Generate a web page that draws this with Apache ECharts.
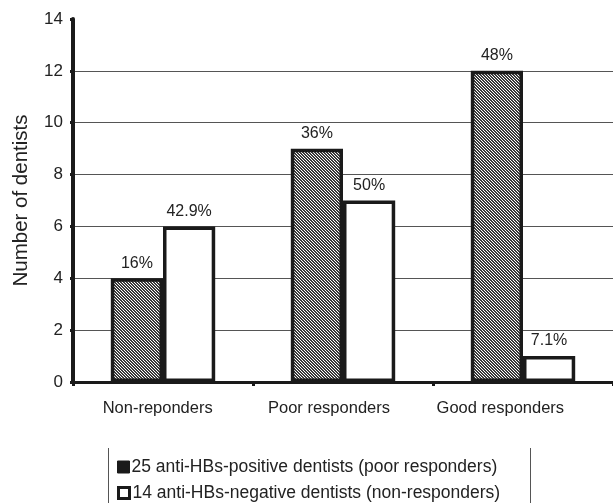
<!DOCTYPE html>
<html>
<head>
<meta charset="utf-8">
<script src="https://cdn.jsdelivr.net/npm/echarts@6/dist/echarts.min.js"></script>
<style>
  html, body { margin: 0; padding: 0; background: #fff; }
  #chart { width: 613px; height: 503px; }
</style>
</head>
<body>
<div id="chart"></div>
<script>
// Response categories and counts of dentists per group
const categories = ['Non-reponders', 'Poor responders', 'Good responders'];
const positiveCounts = [4, 9, 12];
const negativeCounts = [6, 7, 1];
const positiveLabels = ['16%', '36%', '48%'];
const negativeLabels = ['42.9%', '50%', '7.1%'];
const seriesNames = [
  '25 anti-HBs-positive dentists (poor responders)',
  '14 anti-HBs-negative dentists (non-responders)'
];

// Fine diagonal hatch used for the anti-HBs-positive bars
function makeHatch() {
  const c = document.createElement('canvas');
  c.width = 3; c.height = 3;
  const g = c.getContext('2d');
  g.fillStyle = '#ffffff';
  g.fillRect(0, 0, 3, 3);
  g.fillStyle = '#3a3a3a';
  for (let i = 0; i < 3; i++) {
    g.fillRect(i, i, 1, 1);
    g.fillRect((i + 1) % 3, i, 1, 1);
  }
  return c;
}
const hatch = { image: makeHatch(), repeat: 'repeat' };

const font = 'Liberation Sans, Arial, sans-serif';
const textColor = '#222';
const ink = '#1a1a1a';

const chart = echarts.init(document.getElementById('chart'), null, { renderer: 'canvas' });
chart.setOption({
  animation: false,
  backgroundColor: '#fff',
  grid: [
    // plotting area
    { left: 73, right: 0, top: 19, bottom: 121, containLabel: false },
    // narrower band that carries the category captions
    { left: 72, right: 27, top: 19, bottom: 121, containLabel: false }
  ],
  xAxis: [
    {
      type: 'category',
      gridIndex: 0,
      data: categories,
      axisLine: { lineStyle: { color: ink, width: 3 } },
      axisTick: { show: true, length: 4, lineStyle: { color: ink, width: 3 } },
      axisLabel: { show: false }
    },
    {
      type: 'category',
      gridIndex: 1,
      data: categories,
      axisLine: { show: false },
      axisTick: { show: false },
      axisLabel: { color: textColor, fontFamily: font, fontSize: 16.5, margin: 18 }
    }
  ],
  yAxis: [
    {
      type: 'value',
      gridIndex: 0,
      min: 0, max: 14, interval: 2,
      name: 'Number of dentists',
      nameLocation: 'middle',
      nameGap: 41,
      nameTextStyle: { color: textColor, fontFamily: font, fontSize: 20.5 },
      axisLine: { show: true, lineStyle: { color: ink, width: 4 } },
      axisTick: { show: true, length: 3, lineStyle: { color: ink, width: 3 } },
      axisLabel: { color: textColor, fontFamily: font, fontSize: 17, margin: 10 },
      splitLine: { show: true, showMaxLine: false, lineStyle: { color: '#555', width: 1 } }
    },
    {
      type: 'value',
      gridIndex: 1,
      min: 0, max: 14,
      show: false
    }
  ],
  legend: [
    {
      left: 112, top: 453,
      icon: 'rect',
      itemWidth: 12, itemHeight: 12,
      textStyle: { color: textColor, fontFamily: font, fontSize: 17.5, padding: [0, 0, 0, -3] },
      data: [{ name: seriesNames[0], itemStyle: { color: ink, borderWidth: 1 } }]
    },
    {
      left: 112, top: 479,
      icon: 'rect',
      itemWidth: 11, itemHeight: 11,
      textStyle: { color: textColor, fontFamily: font, fontSize: 17.5, padding: [0, 0, 0, -2] },
      data: [{ name: seriesNames[1], itemStyle: { borderWidth: 3 } }]
    }
  ],
  graphic: [
    { type: 'line', shape: { x1: 108.5, y1: 448, x2: 108.5, y2: 503 }, style: { stroke: '#555', lineWidth: 1 } },
    { type: 'line', shape: { x1: 530.5, y1: 448, x2: 530.5, y2: 503 }, style: { stroke: '#555', lineWidth: 1 } }
  ],
  series: [
    {
      name: seriesNames[0],
      type: 'bar',
      xAxisIndex: 0, yAxisIndex: 0,
      data: positiveCounts,
      barGap: '0%',
      barCategoryGap: '42%',
      itemStyle: { color: hatch, borderColor: ink, borderWidth: 3.5 },
      label: {
        show: true, position: 'top', distance: 7,
        color: textColor, fontFamily: font, fontSize: 16,
        formatter: p => positiveLabels[p.dataIndex]
      }
    },
    {
      name: seriesNames[1],
      type: 'bar',
      xAxisIndex: 0, yAxisIndex: 0,
      data: negativeCounts,
      itemStyle: { color: '#fff', borderColor: ink, borderWidth: 3.5 },
      label: {
        show: true, position: 'top', distance: 7,
        color: textColor, fontFamily: font, fontSize: 16,
        formatter: p => negativeLabels[p.dataIndex]
      }
    }
  ]
});
</script>
</body>
</html>
